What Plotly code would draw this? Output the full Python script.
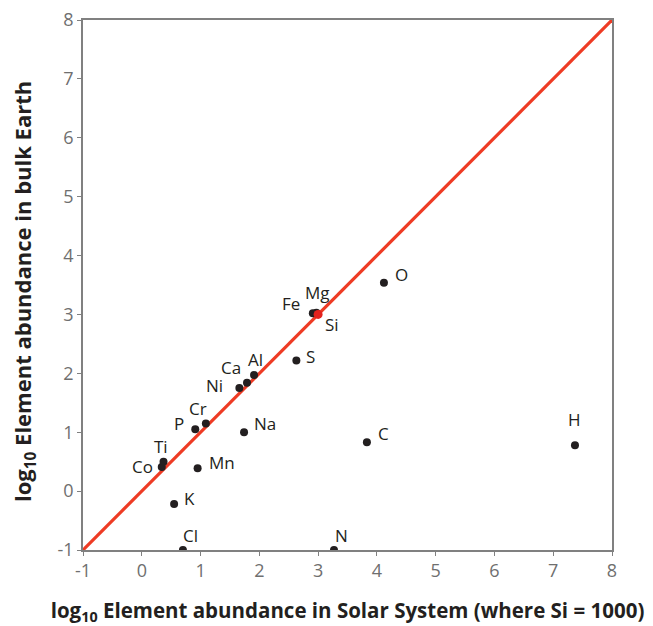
import plotly.graph_objects as go

elements = ["Co", "Ti", "K", "Cl", "Mn", "P", "Cr", "Na", "Ni", "Ca", "Al", "S",
            "Fe", "Mg", "N", "O", "C", "H"]
solar = [0.34, 0.37, 0.55, 0.70, 0.95, 0.91, 1.09, 1.74, 1.66, 1.79, 1.91, 2.63,
         2.91, 2.97, 3.27, 4.12, 3.83, 7.37]
earth = [0.41, 0.50, -0.22, -1.0, 0.39, 1.05, 1.15, 1.0, 1.75, 1.84, 1.97, 2.22,
         3.02, 3.03, -1.0, 3.54, 0.83, 0.78]

ref_name = "Si"
ref_solar = [3.0]
ref_earth = [3.0]

axis_range = [-1, 8]
tick_vals = [-1, 0, 1, 2, 3, 4, 5, 6, 7, 8]
tick_text = ["-1", "0", "1", "2", "3", "4", "5", "6", "7", "8"]

x_title = "<b>log<sub>10</sub> Element abundance in Solar System (where Si = 1000)</b>"
y_title = "<b>log<sub>10</sub> Element abundance in bulk Earth</b>"

# label placement (xanchor, xshift, yshift in px)
label_style = {
    "Co": ("right", -7, 0), "Ti": ("center", -3, 15), "K": ("left", 8, 6),
    "Cl": ("center", 8, 15), "Mn": ("left", 9, 6), "P": ("right", -9, 6),
    "Cr": ("center", -8, 15), "Na": ("left", 8, 9), "Ni": ("right", -14, 3),
    "Ca": ("center", -16, 15), "Al": ("center", 1, 16), "S": ("left", 8, 4),
    "Fe": ("right", -11, 10), "Mg": ("center", 1, 20), "N": ("center", 8, 15),
    "O": ("left", 9, 8), "C": ("left", 9, 9), "H": ("center", 0, 26),
    "Si": ("left", 5, -10),
}

FONT = "Open Sans"
GRAY = "#808080"
TICKTXT = "#6f6f6f"
TEXT = "#231f20"

fig = go.Figure()
fig.add_trace(go.Scatter(x=axis_range, y=axis_range, mode="lines",
                         line=dict(color="#ee3b24", width=3.2), hoverinfo="skip"))
fig.add_trace(go.Scatter(x=solar, y=earth, mode="markers",
                         marker=dict(color=TEXT, size=8), text=elements))
fig.add_trace(go.Scatter(x=ref_solar, y=ref_earth, mode="markers",
                         marker=dict(color="#e3221d", size=9), text=[ref_name]))

all_names = elements + [ref_name]
all_x = solar + ref_solar
all_y = earth + ref_earth
for n, xv, yv in zip(all_names, all_x, all_y):
    xa, xs, ys = label_style[n]
    fig.add_annotation(x=xv, y=yv, text=n, showarrow=False, xanchor=xa,
                       yanchor="middle", xshift=xs, yshift=ys,
                       font=dict(family=FONT, size=17, color=TEXT))

# y-axis title as rotated annotation
fig.add_annotation(xref="paper", yref="paper", x=0, y=0.5, text=y_title,
                   textangle=-90, showarrow=False, xanchor="center", yanchor="middle",
                   xshift=-59, yshift=-7,
                   font=dict(family=FONT, size=22, color=TEXT))

axis_common = dict(range=axis_range, tickvals=tick_vals, ticktext=tick_text,
                   ticks="outside", ticklen=4, automargin=False,
                   ticklabeloverflow="allow",
                   tickcolor=GRAY, tickwidth=1.3, showline=True, linecolor=GRAY,
                   linewidth=1.5, mirror=True, showgrid=False, zeroline=False,
                   tickfont=dict(family=FONT, size=18, color=TICKTXT))

fig.update_xaxes(**axis_common,
                 title=dict(text=x_title,
                            font=dict(family=FONT, size=20.5, color=TEXT), standoff=30))
fig.update_yaxes(**axis_common)

fig.update_layout(width=645, height=618, showlegend=False,
                  margin=dict(l=75, r=41, t=12, b=76),
                  plot_bgcolor="white", paper_bgcolor="white")

fig.write_html("out.html")
